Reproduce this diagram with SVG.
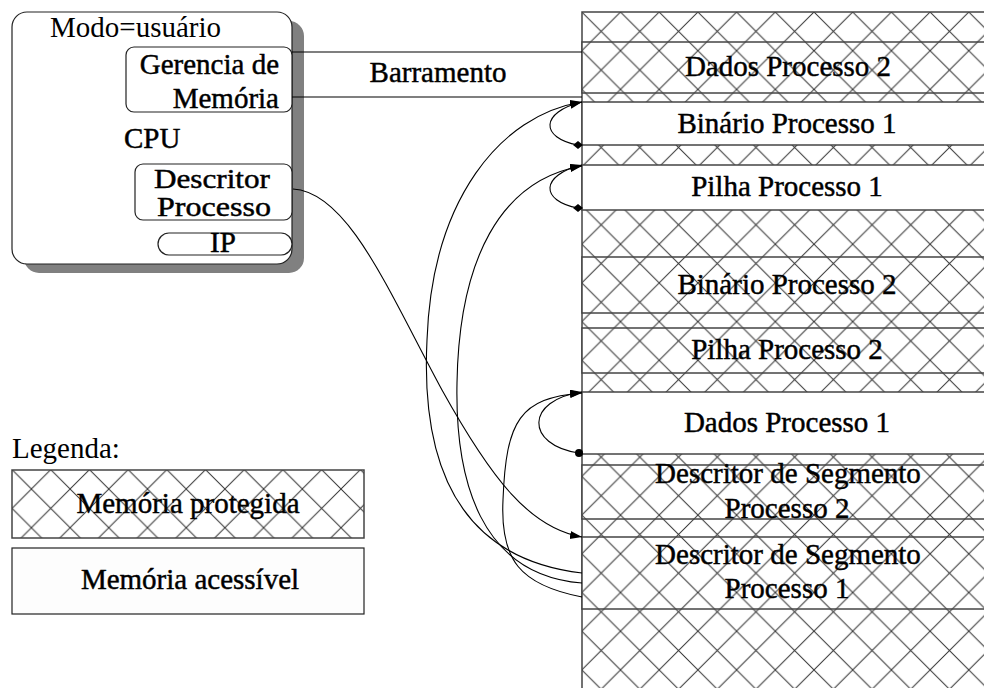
<svg xmlns="http://www.w3.org/2000/svg" width="984" height="688" viewBox="0 0 984 688">
<style>
.t{font-family:"Liberation Serif","Times New Roman",serif;font-size:29px;fill:#000}
.b{stroke:#000;stroke-width:0.45}
.m{text-anchor:middle}
.e{text-anchor:end}
.box{fill:#fff;stroke:#222;stroke-width:1.2}
.seg{stroke:#444;stroke-width:1.5}
.white{fill:#fff}
.hm{fill:url(#hm)}
.hl{fill:url(#hl)}
.c{fill:none;stroke:#000;stroke-width:1.1}
</style>
<defs>
<pattern id="hm" patternUnits="userSpaceOnUse" x="620.5" y="12" width="38.7" height="38.7">
<rect width="38.7" height="38.7" fill="#fff"/>
<path d="M0,0 L38.7,38.7 M38.7,0 L0,38.7" stroke="#333" stroke-width="1" fill="none"/>
</pattern>
<pattern id="hl" patternUnits="userSpaceOnUse" x="341" y="489" width="38.7" height="38.7">
<rect width="38.7" height="38.7" fill="#fff"/>
<path d="M0,0 L38.7,38.7 M38.7,0 L0,38.7" stroke="#333" stroke-width="1" fill="none"/>
</pattern>
<marker id="arr" markerUnits="userSpaceOnUse" markerWidth="13" markerHeight="9" refX="12" refY="4" orient="auto">
<path d="M0,0 L12,4 L0,8 z" fill="#000"/>
</marker>
<marker id="dia" markerUnits="userSpaceOnUse" markerWidth="12" markerHeight="12" refX="6" refY="6" orient="0">
<path d="M1,6 L6,2 L11,6 L6,10 z" fill="#000"/>
</marker>
<marker id="dot" markerUnits="userSpaceOnUse" markerWidth="10" markerHeight="10" refX="5" refY="5" orient="0">
<circle cx="5" cy="5" r="4" fill="#000"/>
</marker>
</defs>
<rect width="984" height="688" fill="#fff"/>

<g id="memoria">
<rect x="582" y="12" width="420" height="690" class="seg hm"/>
<g id="dados-p2"><rect x="582" y="42" width="420" height="51" class="seg hm"/><text class="t m b" x="788" y="76">Dados Processo 2</text></g>
<g id="binario-p1"><rect x="582" y="102" width="420" height="43" class="seg white" stroke="#222"/><text class="t m b" x="787" y="133">Binário Processo 1</text></g>
<g id="pilha-p1"><rect x="582" y="165" width="420" height="45" class="seg white"/><text class="t m b" x="787" y="196">Pilha Processo 1</text></g>
<g id="binario-p2"><rect x="582" y="257" width="420" height="56" class="seg hm"/><text class="t m b" x="787" y="294">Binário Processo 2</text></g>
<g id="pilha-p2"><rect x="582" y="328" width="420" height="45" class="seg hm"/><text class="t m b" x="787" y="359">Pilha Processo 2</text></g>
<g id="dados-p1"><rect x="582" y="392" width="420" height="62" class="seg white"/><text class="t m b" x="787" y="432">Dados Processo 1</text></g>
<g id="desc-p2"><rect x="582" y="465" width="420" height="54" class="seg hm"/><text class="t m b" x="788" y="483">Descritor de Segmento</text><text class="t m b" x="787" y="518">Processo 2</text></g>
<g id="desc-p1"><rect x="582" y="537" width="420" height="72" class="seg hm"/><text class="t m b" x="788" y="564">Descritor de Segmento</text><text class="t m b" x="787" y="598">Processo 1</text></g>
</g>

<g id="cpu">
<rect x="24" y="21" width="280" height="252" rx="15" fill="#808080"/>
<rect x="12" y="12" width="280" height="252" rx="15" class="box"/>
<text class="t" x="50" y="37">Modo=usuário</text>
<text class="t b" x="124" y="148">CPU</text>
</g>
<g id="gerencia">
<rect x="126" y="47" width="166" height="65" rx="8" class="box"/>
<text class="t e b" x="279" y="74">Gerencia de</text>
<text class="t e b" x="279" y="108">Memória</text>
</g>
<g id="descritor">
<rect x="135" y="164" width="157" height="56" rx="8" class="box"/>
<text class="t m b" x="212" y="188" style="font-size:27px" textLength="116" lengthAdjust="spacingAndGlyphs">Descritor</text>
<text class="t m b" x="214" y="216" style="font-size:27px" textLength="114" lengthAdjust="spacingAndGlyphs">Processo</text>
</g>
<g id="ip">
<rect x="158" y="233" width="134" height="22" rx="11" class="box"/>
<text class="t m b" x="223" y="252">IP</text>
</g>

<g id="barramento">
<path d="M292,52 H582 M292,97 H582" stroke="#000" stroke-width="1.2" fill="none"/>
<text class="t m b" x="438" y="82">Barramento</text>
</g>

<g id="legenda">
<text class="t" x="12" y="458">Legenda:</text>
<g id="leg-protegida"><rect x="12" y="470" width="352" height="68" class="seg hl"/><text class="t m b" x="188" y="513">Memória protegida</text></g>
<g id="leg-acessivel"><rect x="12" y="548" width="352" height="66" fill="#fdfdfd" stroke="#222" stroke-width="1.2"/><text class="t m b" x="190" y="589">Memória acessível</text></g>
</g>

<g id="conectores">
<path class="c" d="M293,189 C348,192 388,290 442,390 C492,480 530,528 582,537" marker-end="url(#arr)"/>
<path class="c" d="M578,145 C540,138 540,112 582,102" marker-start="url(#dia)" marker-end="url(#arr)"/>
<path class="c" d="M578,208 C540,201 540,175 582,165" marker-start="url(#dia)" marker-end="url(#arr)"/>
<path class="c" d="M579,453 C525,445 525,400 582,392" marker-start="url(#dot)" marker-end="url(#arr)"/>
<path class="c" d="M582,573 C470,560 420,480 427,340 C432,200 500,115 582,102" marker-end="url(#arr)"/>
<path class="c" d="M582,583 C480,575 455,480 457,383 C459,260 500,180 582,166" marker-end="url(#arr)"/>
<path class="c" d="M582,597 C520,585 500,560 503,500 C506,420 520,398 582,393" marker-end="url(#arr)"/>
</g>
</svg>
